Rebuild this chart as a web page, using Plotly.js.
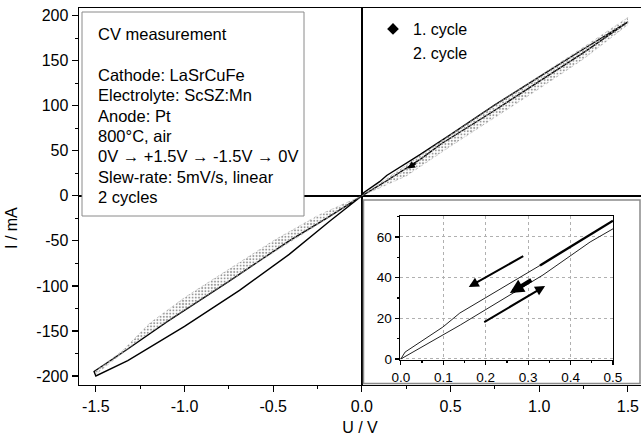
<!DOCTYPE html>
<html><head><meta charset="utf-8">
<script src="https://cdn.plot.ly/plotly-3.0.1.min.js"></script>
<style>html,body{margin:0;padding:0;background:#fff}</style>
</head><body>
<div id="chart" style="width:642px;height:445px"></div>
<script>
// ---- data ----
// cycle 1: 0V -> +1.5V -> 0V -> -1.5V -> 0V
const cycle1U = [0, 0.14, 0.335, 0.446, 0.75, 1.0, 1.25, 1.5,
                 1.25, 1.0, 0.75, 0.5, 0.33, 0.14, 0.1, 0.01, 0,
                 -0.18, -0.41, -0.69, -1.0, -1.32, -1.5,
                 -1.51, -1.32, -1.1, -0.75, -0.41, -0.2, 0];
const cycle1I = [0, 16.7, 41.3, 57.5, 95, 127, 159, 193,
                 163, 132, 101, 68, 46, 22.6, 15.7, 3.4, 0,
                 -28, -65, -105, -145, -183, -200,
                 -195, -170, -140, -95, -50, -25, 0];
// cycle 2: grey stippled band
const cycle2U = [0, 0.25, 0.5, 0.75, 1.0, 1.25, 1.5,
                 1.5, 1.25, 1.0, 0.75, 0.5, 0.25, 0,
                 -0.25, -0.5, -0.75, -1.0, -1.25, -1.5,
                 -1.5, -1.35, -1.2, -1.0, -0.75, -0.5, -0.25, 0];
const cycle2I = [0, 22, 55, 87, 119, 152, 190,
                 198, 165, 133, 101, 68, 34, 0,
                 -32, -63, -95, -127, -159, -198,
                 -194, -172, -142, -113, -82, -50, -22, 0];
// inset: cycle 1 between 0 and 0.5 V
const insetFwdU = [0, 0.14, 0.335, 0.446, 0.5];
const insetFwdI = [0, 16.7, 41.3, 57.5, 64];
const insetBackU = [0.5, 0.328, 0.139, 0.099, 0.01, 0];
const insetBackI = [68, 46, 22.6, 15.7, 3.4, 0];
// inset arrows (tail -> head), third one is the short thick mark
const arrowTailU = [0.292, 0.193, 0.311];
const arrowTailI = [51, 17.7, 39.3];
const arrowHeadU = [0.160, 0.340, 0.257];
const arrowHeadI = [35.4, 35.9, 32.4];
// ticks and texts
const xTickVals = [-1.5, -1.0, -0.5, 0, 0.5, 1.0, 1.5];
const xTickText = ['-1.5', '-1.0', '-0.5', '0.0', '0.5', '1.0', '1.5'];
const yTickVals = [-200, -150, -100, -50, 0, 50, 100, 150, 200];
const yTickText = ['-200', '-150', '-100', '-50', '0', '50', '100', '150', '200'];
const insetXTickVals = [0, 0.1, 0.2, 0.3, 0.4, 0.5];
const insetXTickText = ['0.0', '0.1', '0.2', '0.3', '0.4', '0.5'];
const insetYTickVals = [0, 20, 40, 60];
const seriesNames = ['1. cycle', '2. cycle'];
const infoLines = ['CV measurement', '', 'Cathode: LaSrCuFe', 'Electrolyte: ScSZ:Mn',
  'Anode: Pt', '800°C, air', '0V \u2192 +1.5V \u2192 -1.5V \u2192 0V',
  'Slew-rate: 5mV/s, linear', '2 cycles'];
const xTitle = 'U / V';
const yTitle = 'I / mA';

// ---- geometry helpers (pixel -> paper) ----
const W = 642, H = 445, L = 79, R = 1, T = 8, B = 60;
const PW = W - L - R, PH = H - T - B;
const px = v => (v - L) / PW;
const py = v => (H - B - v) / PH;
const FONT = 'Liberation Sans, Arial, Helvetica, sans-serif';

const traces = [
  {x: cycle1U, y: cycle1I, xaxis: 'x', yaxis: 'y', mode: 'lines',
   line: {color: 'black', width: 1.4}, showlegend: false, hoverinfo: 'skip'},
  {x: cycle2U, y: cycle2I, xaxis: 'x', yaxis: 'y', mode: 'lines',
   line: {color: 'rgba(160,160,160,0.6)', width: 0.8, dash: 'dot'},
   fill: 'toself', fillcolor: 'rgba(255,255,255,0.5)',
   fillpattern: {shape: '.', size: 3.2, solidity: 0.32, fgcolor: '#9a9a9a'},
   showlegend: false, hoverinfo: 'skip'},
  // legend entries
  {x: [null], y: [null], mode: 'markers', name: seriesNames[0],
   marker: {symbol: 'diamond', size: 9, color: 'black'}},
  {x: [null], y: [null], mode: 'markers', name: seriesNames[1],
   marker: {symbol: 'circle', size: 4, color: 'rgba(0,0,0,0)'}},
  // inset
  {x: insetFwdU, y: insetFwdI, xaxis: 'x2', yaxis: 'y2', mode: 'lines',
   line: {color: '#222', width: 1}, showlegend: false, hoverinfo: 'skip'},
  {x: insetBackU.slice(0, 2), y: insetBackI.slice(0, 2), xaxis: 'x2', yaxis: 'y2', mode: 'lines',
   line: {color: 'black', width: 2.4}, showlegend: false, hoverinfo: 'skip'},
  {x: insetBackU.slice(1), y: insetBackI.slice(1), xaxis: 'x2', yaxis: 'y2', mode: 'lines',
   line: {color: '#222', width: 1}, showlegend: false, hoverinfo: 'skip'}
];

const annotations = [];
let lineY = 33;
infoLines.forEach((t, i) => {
  if (t) annotations.push({xref: 'paper', yref: 'paper', x: px(96), y: py(lineY + 1),
    xanchor: 'left', yanchor: 'middle', text: t, showarrow: false,
    font: {family: FONT, size: 16.5, color: 'black'}});
  lineY += 20.4;
});
annotations.push({xref: 'paper', yref: 'paper', x: px(11), y: py(228), text: yTitle,
  textangle: -90, showarrow: false, xanchor: 'center', yanchor: 'middle',
  font: {family: FONT, size: 16, color: 'black'}});
arrowTailU.forEach((u, i) => {
  annotations.push({xref: 'x2', yref: 'y2', axref: 'x2', ayref: 'y2',
    x: arrowHeadU[i], y: arrowHeadI[i], ax: u, ay: arrowTailI[i], text: '',
    showarrow: true, arrowhead: 2, arrowsize: i === 2 ? 0.7 : 1,
    arrowwidth: i === 2 ? 4 : 2, arrowcolor: 'black'});
});
// the same short thick mark seen in the main plot
annotations.push({xref: 'x', yref: 'y', axref: 'x', ayref: 'y',
  x: arrowHeadU[2], y: arrowHeadI[2] - 2, ax: arrowTailU[2], ay: arrowTailI[2] - 2, text: '',
  showarrow: true, arrowhead: 2, arrowsize: 0.6, arrowwidth: 2.5, arrowcolor: 'black'});

const axCommon = {showline: true, linecolor: 'black', linewidth: 1.4,
  ticks: 'outside', tickcolor: 'black', tickwidth: 1.2, showgrid: false};

const layout = {
  width: W, height: H,
  margin: {l: L, r: R, t: T, b: B, pad: 0},
  paper_bgcolor: 'white', plot_bgcolor: 'white',
  font: {family: FONT, size: 16, color: 'black'},
  showlegend: true,
  legend: {x: px(373), y: py(12), xanchor: 'left', yanchor: 'top',
    bgcolor: 'rgba(0,0,0,0)', font: {family: FONT, size: 16}, tracegroupgap: 0},
  xaxis: Object.assign({}, axCommon, {mirror: true,
    range: [-1.595, 1.574], tickmode: 'array', tickvals: xTickVals, ticktext: xTickText,
    ticklen: 6, zeroline: true, zerolinecolor: 'black', zerolinewidth: 1.5,
    minor: {tickmode: 'linear', tick0: 0, dtick: 0.25, ticks: 'outside', ticklen: 3,
      tickcolor: 'black', showgrid: false},
    tickfont: {family: FONT, size: 16},
    title: {text: xTitle, font: {family: FONT, size: 16}, standoff: 8}}),
  yaxis: Object.assign({}, axCommon, {mirror: false,
    range: [-210, 208.5], tickmode: 'array', tickvals: yTickVals, ticktext: yTickText,
    ticklen: 6, zeroline: true, zerolinecolor: 'black', zerolinewidth: 1.5,
    minor: {tickmode: 'linear', tick0: 0, dtick: 25, ticks: 'outside', ticklen: 3,
      tickcolor: 'black', showgrid: false},
    tickfont: {family: FONT, size: 16}}),
  xaxis2: Object.assign({}, axCommon, {mirror: true,
    domain: [px(400), px(613)], anchor: 'y2', range: [-0.002, 0.5],
    tickmode: 'array', tickvals: insetXTickVals, ticktext: insetXTickText, ticklen: 4,
    showgrid: true, gridcolor: '#b0b0b0', griddash: 'dot', gridwidth: 1, zeroline: false,
    minor: {tickmode: 'linear', tick0: 0, dtick: 0.05, ticks: 'outside', ticklen: 2,
      tickcolor: 'black', showgrid: false},
    tickfont: {family: FONT, size: 13.5}}),
  yaxis2: Object.assign({}, axCommon, {mirror: true,
    domain: [py(360), py(216)], anchor: 'x2', range: [-0.5, 70.3],
    tickmode: 'array', tickvals: insetYTickVals, ticklen: 4,
    showgrid: true, gridcolor: '#b0b0b0', griddash: 'dot', gridwidth: 1, zeroline: false,
    minor: {tickmode: 'linear', tick0: 0, dtick: 10, ticks: 'outside', ticklen: 2,
      tickcolor: 'black', showgrid: false},
    tickfont: {family: FONT, size: 13.5}}),
  shapes: [
    {type: 'rect', xref: 'paper', yref: 'paper', layer: 'above',
     x0: px(82), x1: px(304), y0: py(216), y1: py(12),
     line: {color: '#8a8a8a', width: 1}, fillcolor: 'white'},
    {type: 'rect', xref: 'paper', yref: 'paper', layer: 'above',
     x0: px(363.5), x1: px(640), y0: py(383.5), y1: py(200),
     line: {color: '#8a8a8a', width: 1.5}, fillcolor: 'rgba(0,0,0,0)'}
  ],
  annotations: annotations
};

Plotly.newPlot('chart', traces, layout, {displayModeBar: false, staticPlot: true});
</script>
</body></html>
